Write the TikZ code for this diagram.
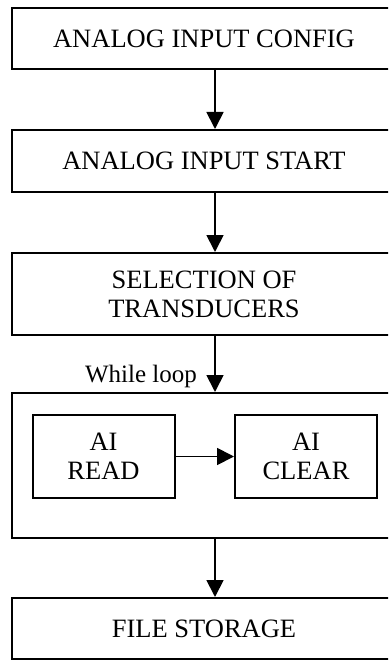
\documentclass[tikz,border=0pt]{standalone}
\usepackage{fontspec}
\setmainfont{Liberation Serif}
\usetikzlibrary{arrows.meta}
\begin{document}
\begin{tikzpicture}[x=1pt,y=-1pt,
  box/.style={draw=black, line width=2pt, inner sep=0pt, align=center,
    font=\fontsize{26.5}{29}\selectfont},
  arr/.style={line width=1.8pt, -{Triangle[length=17pt,width=17pt]}}]
\useasboundingbox (0,0) rectangle (388,660);
\begin{scope}
\clip (0,0) rectangle (388,660);
\node[box, minimum width=384pt, minimum height=61pt] (b1) at (204,38.5) {ANALOG INPUT CONFIG};
\node[box, minimum width=384pt, minimum height=62pt] (b2) at (204,161) {ANALOG INPUT START};
\node[box, minimum width=384pt, minimum height=82pt] (b3) at (204,294) {SELECTION OF\\TRANSDUCERS};
\node[box, minimum width=384pt, minimum height=145pt] (loop) at (204,465.5) {};
\node[box, minimum width=142pt, minimum height=83pt] (rd) at (103.5,456.5) {AI\\READ};
\node[box, minimum width=142pt, minimum height=83pt] (cl) at (306,456.5) {AI\\CLEAR};
\node[box, minimum width=384pt, minimum height=61pt] (fs) at (204,628.5) {FILE STORAGE};
\end{scope}
\node[font=\fontsize{25}{28}\selectfont, anchor=base east, inner sep=0pt] (wl) at (197,382) {While loop};
\coordinate (ax) at (215,0);
\draw[arr] (b1.south -| ax) -- (b2.north -| ax);
\draw[arr] (b2.south -| ax) -- (b3.north -| ax);
\draw[arr] (b3.south -| ax) -- (loop.north -| ax);
\draw[arr] (loop.south -| ax) -- (fs.north -| ax);
\draw[arr] (rd.east) -- (cl.west);
\end{tikzpicture}
\end{document}
